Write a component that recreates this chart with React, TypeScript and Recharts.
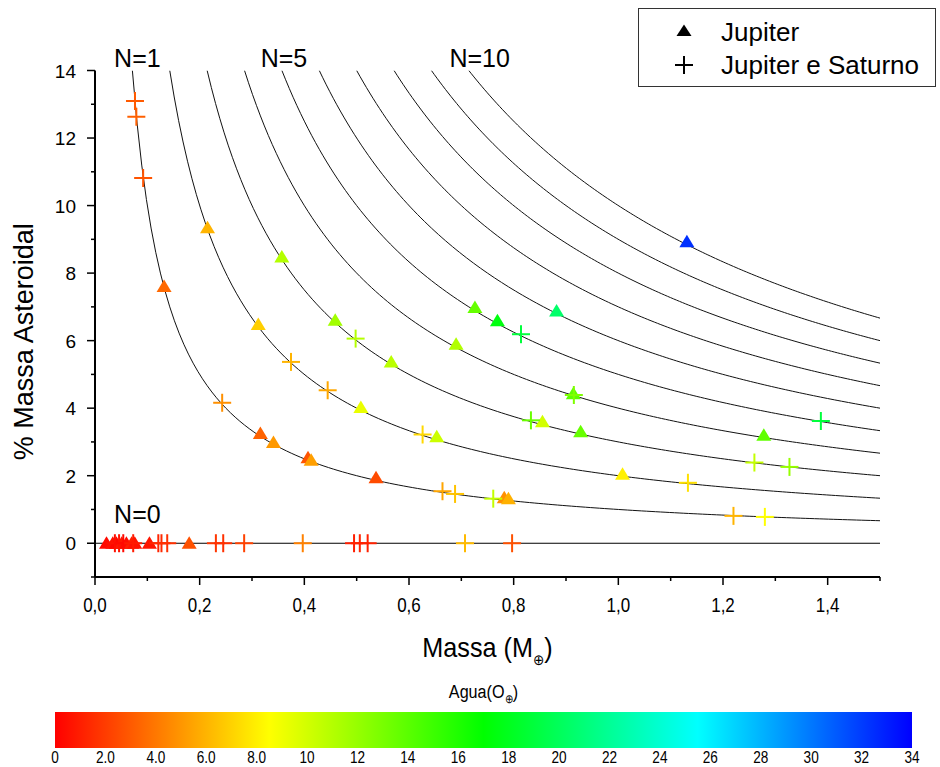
import React from 'react';
import { ComposedChart, Line, Scatter, XAxis, YAxis, ReferenceLine, ReferenceDot } from 'recharts';

// Jupiter (triangulos)
const jupMassa = [0.132, 0.215, 0.357, 0.312, 0.459, 0.726, 0.769, 0.690, 0.566, 0.508, 0.653, 0.316, 0.341, 0.407, 0.413, 0.537, 0.782, 0.790, 0.882, 0.914, 0.855, 0.928, 1.008, 1.278, 1.131, 0.022, 0.034, 0.041, 0.051, 0.060, 0.070, 0.076, 0.104, 0.180];
const jupAst = [7.60, 9.34, 8.48, 6.48, 6.60, 6.98, 6.59, 5.89, 5.37, 4.02, 3.15, 3.25, 2.98, 2.53, 2.46, 1.94, 1.35, 1.32, 6.88, 4.43, 3.60, 3.30, 2.04, 3.20, 8.93, 0, 0, 0, 0, 0, 0, 0, 0, 0];
const jupAgua = [3.5, 6.0, 11.0, 6.9, 11.6, 13.6, 17.5, 11.1, 10.8, 9.2, 10.2, 3.3, 5.1, 2.8, 5.3, 2.5, 4.8, 5.9, 20.5, 13.9, 10.0, 13.6, 8.0, 13.8, 32.4, 0.3, 0.5, 0.2, 0.8, 0.4, 1.0, 0.6, 0.7, 2.7];

// Jupiter e Saturno (cruzes)
const satMassa = [0.0764, 0.079, 0.092, 0.498, 0.814, 0.3745, 0.4446, 0.243, 0.833, 0.626, 0.664, 0.688, 0.761, 0.915, 1.133, 1.220, 1.280, 1.260, 1.327, 1.387, 0.038, 0.046, 0.054, 0.073, 0.121, 0.127, 0.138, 0.231, 0.245, 0.285, 0.397, 0.495, 0.506, 0.521, 0.707, 0.797];
const satAst = [13.10, 12.63, 10.82, 6.06, 6.19, 5.37, 4.53, 4.16, 3.64, 3.22, 1.54, 1.46, 1.32, 4.39, 1.79, 0.81, 0.78, 2.39, 2.26, 3.62, 0, 0, 0, 0, 0, 0, 0, 0, 0, 0, 0, 0, 0, 0, 0, 0];
const satAgua = [3.0, 3.2, 2.8, 11.0, 19.0, 6.0, 5.6, 4.8, 13.5, 7.2, 5.5, 6.5, 10.5, 12.8, 7.5, 6.0, 8.5, 10.5, 12.0, 19.0, 0.5, 0.6, 0.3, 0.9, 1.2, 1.4, 1.6, 1.8, 1.6, 2.2, 4.3, 1.0, 1.2, 1.1, 6.2, 2.7];

// curvas de N embrioes: % = N / massa
const curveLevels = [1, 2, 3, 4, 5, 6, 7, 8, 9, 10];

const nLabelText = ['N=0', 'N=1', 'N=5', 'N=10'];
const nLabelMassa = [0.081, 0.081, 0.361, 0.735];
const nLabelAst = [0.88, 14.37, 14.37, 14.37];

const xTicks = [0, 0.1, 0.2, 0.3, 0.4, 0.5, 0.6, 0.7, 0.8, 0.9, 1.0, 1.1, 1.2, 1.3, 1.4, 1.5];
const xLabelTicks = [0, 0.2, 0.4, 0.6, 0.8, 1.0, 1.2, 1.4];
const yTicks = [-1, 0, 1, 2, 3, 4, 5, 6, 7, 8, 9, 10, 11, 12, 13, 14];
const yLabelTicks = [0, 2, 4, 6, 8, 10, 12, 14];
const aguaTicks = [0, 2, 4, 6, 8, 10, 12, 14, 16, 18, 20, 22, 24, 26, 28, 30, 32, 34];
const aguaMax = 34;

const sans = "'Liberation Sans', Arial, sans-serif";

const aguaColor = (w: number) => `hsl(${(w / aguaMax) * 240}, 100%, 50%)`;

const jupData = jupMassa.map((x, i) => ({ x, y: jupAst[i], agua: jupAgua[i] }));
const satData = satMassa.map((x, i) => ({ x, y: satAst[i], agua: satAgua[i] }));

const curves = curveLevels.map(n => {
  const start = n / 14;
  const pts = [];
  const steps = 160;
  for (let k = 0; k <= steps; k++) {
    const x = start + ((1.5 - start) * k) / steps;
    pts.push({ x, y: n / x });
  }
  return { n, pts };
});

// texto "estreito": comprime na horizontal em torno de x
const squeeze = (x: number, f = 0.85) => `translate(${x},0) scale(${f},1) translate(${-x},0)`;

const Triangle = (props: any) => {
  const { cx, cy, payload } = props;
  if (cx == null || cy == null) return null;
  return <path d={`M${cx},${cy - 7} L${cx + 7.5},${cy + 5.5} L${cx - 7.5},${cy + 5.5} Z`} fill={aguaColor(payload.agua)} />;
};

const Cross = (props: any) => {
  const { cx, cy, payload } = props;
  if (cx == null || cy == null) return null;
  const c = aguaColor(payload.agua);
  return (
    <g stroke={c} strokeWidth={2}>
      <line x1={cx - 9} x2={cx + 9} y1={cy} y2={cy} />
      <line x1={cx} x2={cx} y1={cy - 9} y2={cy + 9} />
    </g>
  );
};

const XTick = (props: any) => {
  const { x, y, payload } = props;
  const major = xLabelTicks.some(t => Math.abs(t - payload.value) < 1e-6);
  return (
    <g>
      <line x1={x} x2={x} y1={y} y2={y + (major ? 8 : 4)} stroke="#000" strokeWidth={1.5} />
      {major && (
        <text x={x} y={y + 35} transform={squeeze(x)} textAnchor="middle" fontSize={20} fontFamily={sans} fill="#000">
          {payload.value.toFixed(1).replace('.', ',')}
        </text>
      )}
    </g>
  );
};

const YTick = (props: any) => {
  const { x, y, payload } = props;
  const major = yLabelTicks.includes(payload.value);
  return (
    <g>
      <line x1={x - (major ? 8 : 4)} x2={x} y1={y} y2={y} stroke="#000" strokeWidth={1.5} />
      {major && (
        <text x={x - 19} y={y + 7} textAnchor="end" fontSize={19} fontFamily={sans} fill="#000">
          {payload.value}
        </text>
      )}
    </g>
  );
};

const NLabel = (text: string) => (props: any) => (
  <text x={props.cx} y={props.cy} textAnchor="middle" dominantBaseline="central" fontSize={25} fontFamily={sans} fill="#000">
    {text}
  </text>
);

const Legenda = () => (
  <svg width={302} height={80} style={{ position: 'absolute', left: 638, top: 8 }}>
    <rect x={0.5} y={0.5} width={297} height={78} fill="#fff" stroke="#333" strokeWidth={1} />
    <path d="M46,16.5 L53.5,28 L38.5,28 Z" fill="#000" />
    <text x={83} y={33} fontSize={26} fontFamily={sans} fill="#000">Jupiter</text>
    <line x1={37} x2={55} y1={57} y2={57} stroke="#000" strokeWidth={2} />
    <line x1={46} x2={46} y1={48} y2={66} stroke="#000" strokeWidth={2} />
    <text x={83} y={66} fontSize={26} fontFamily={sans} fill="#000">Jupiter e Saturno</text>
  </svg>
);

const BarraCor = () => {
  const left = 55;
  const width = 857;
  const mid = left + width / 2;
  return (
    <svg width={940} height={87} style={{ position: 'absolute', left: 0, top: 680 }}>
      <defs>
        <linearGradient id="agua" x1="0" x2="1" y1="0" y2="0">
          <stop offset="0%" stopColor="hsl(0,100%,50%)" />
          <stop offset="25%" stopColor="hsl(60,100%,50%)" />
          <stop offset="50%" stopColor="hsl(120,100%,50%)" />
          <stop offset="75%" stopColor="hsl(180,100%,50%)" />
          <stop offset="100%" stopColor="hsl(240,100%,50%)" />
        </linearGradient>
      </defs>
      <text x={mid} y={18} transform={squeeze(mid)} textAnchor="middle" fontSize={19} fontFamily={sans} fill="#000">
        Agua(O<tspan dy={5} fontSize={12}>⊕</tspan><tspan dy={-5}>)</tspan>
      </text>
      <rect x={left} y={32} width={width} height={36} fill="url(#agua)" />
      {aguaTicks.map(t => {
        const tx = left + (t / aguaMax) * width;
        return (
          <text key={t} x={tx} y={83} transform={squeeze(tx)} textAnchor="middle" fontSize={16} fontFamily={sans} fill="#000">
            {t === 0 || t >= 10 ? String(t) : t.toFixed(1)}
          </text>
        );
      })}
    </svg>
  );
};

const App: React.FC = () => {
  return (
    <div style={{ position: 'absolute', left: 0, top: 0, width: 940, height: 767, background: '#fff' }}>
      <ComposedChart width={940} height={680} margin={{ top: 70.5, right: 60, bottom: 0, left: 0 }}>
        <XAxis
          type="number"
          dataKey="x"
          domain={[0, 1.5]}
          ticks={xTicks}
          interval={0}
          tickSize={0}
          tickMargin={0}
          tick={<XTick />}
          axisLine={{ stroke: '#000', strokeWidth: 2 }}
          height={103}
          allowDataOverflow
          label={{
            content: (p: any) => {
              const vb = p.viewBox;
              const cx = vb.x + vb.width / 2;
              return (
                <text x={cx} y={vb.y + 80} transform={squeeze(cx, 0.9)} textAnchor="middle" fontSize={28} fontFamily={sans} fill="#000">
                  Massa (M<tspan dy={8} fontSize={15}>⊕</tspan><tspan dy={-8}>)</tspan>
                </text>
              );
            },
          }}
        />
        <YAxis
          type="number"
          dataKey="y"
          domain={[-1, 14]}
          ticks={yTicks}
          interval={0}
          tickSize={0}
          tickMargin={0}
          tick={<YTick />}
          axisLine={{ stroke: '#000', strokeWidth: 2 }}
          width={95}
          allowDataOverflow
          label={{
            content: (p: any) => {
              const vb = p.viewBox;
              const cy = vb.y + vb.height / 2 + 18;
              return (
                <text x={33} y={cy} transform={`rotate(-90, 33, ${cy})`} textAnchor="middle" fontSize={27} fontFamily={sans} fill="#000">
                  % Massa Asteroidal
                </text>
              );
            },
          }}
        />
        <ReferenceLine y={0} stroke="#000" strokeWidth={1.2} />
        <Scatter data={jupData} dataKey="y" shape={Triangle} isAnimationActive={false} />
        <Scatter data={satData} dataKey="y" shape={Cross} isAnimationActive={false} />
        {curves.map(c => (
          <Line
            key={c.n}
            data={c.pts}
            dataKey="y"
            type="linear"
            stroke="#111"
            strokeWidth={1}
            dot={false}
            activeDot={false}
            isAnimationActive={false}
          />
        ))}
        {nLabelText.map((t, i) => (
          <ReferenceDot key={t} x={nLabelMassa[i]} y={nLabelAst[i]} r={0} ifOverflow="visible" shape={NLabel(t)} />
        ))}
      </ComposedChart>
      <Legenda />
      <BarraCor />
    </div>
  );
};

export default App;
